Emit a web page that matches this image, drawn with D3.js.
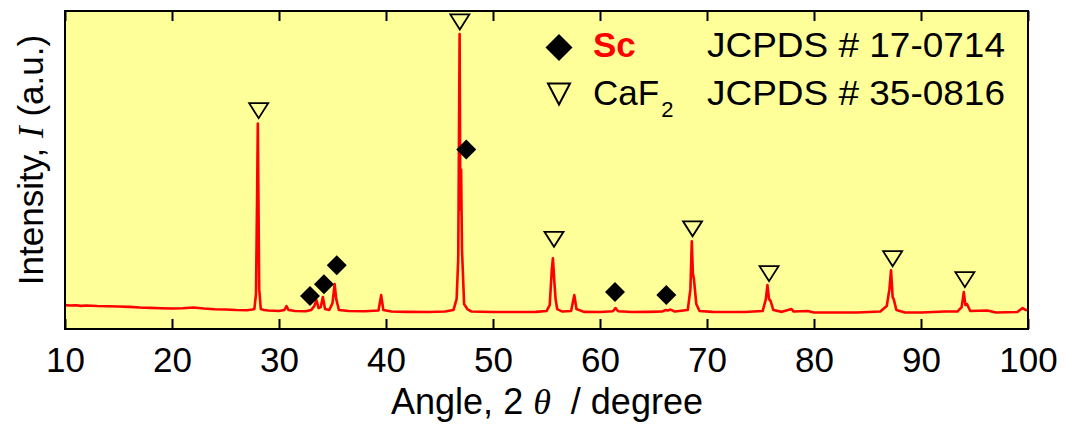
<!DOCTYPE html>
<html>
<head>
<meta charset="utf-8">
<script src="https://cdn.jsdelivr.net/npm/d3@7"></script>
<style>
  body { margin: 0; background: #ffffff; }
  svg { display: block; font-family: Arial, "Liberation Sans", sans-serif; }
</style>
</head>
<body>
<svg id="chart" width="1068" height="425"></svg>
<script>
// XRD pattern, 2theta (degree) vs intensity (a.u.)
const angles = [
  10.0, 10.5, 11.0, 11.5, 12.0, 13.0, 14.0, 15.0, 16.0, 17.0, 18.0, 19.0, 20.0, 21.0, 22.0, 22.5, 23.0, 24.0,
  25.0, 26.0, 27.0, 27.5, 27.7, 27.85, 27.95, 28.02, 28.08, 28.15, 28.3, 28.6, 29.0, 30.0, 30.5, 30.7, 30.9,
  31.5, 32.5, 33.0, 33.3, 33.5, 33.7, 33.9, 34.1, 34.3, 34.7, 35.0, 35.2, 35.35, 35.6, 36.5, 38.0, 39.3,
  39.55, 39.75, 40.5, 42.0, 44.0, 45.5, 46.3, 46.6, 46.75, 46.88, 46.95, 47.02, 47.1, 47.3, 47.6, 48.0,
  50.0, 52.0, 54.0, 55.0, 55.3, 55.5, 55.6, 55.75, 55.85, 56.0, 56.5, 57.3, 57.6, 57.8, 58.5, 60.0, 61.2,
  61.45, 61.7, 63.0, 64.5, 65.8, 66.1, 66.35, 66.6, 67.0, 68.2, 68.45, 68.58, 68.68, 68.78, 69.0, 69.3,
  70.5, 72.0, 73.5, 75.2, 75.5, 75.65, 75.8, 75.95, 76.2, 77.0, 77.9, 78.1, 79.4, 80.0, 82.0, 84.0, 86.2,
  86.8, 87.05, 87.2, 87.35, 87.45, 87.7, 88.5, 90.0, 92.2, 93.4, 93.8, 94.0, 94.15, 94.3, 94.6, 96.2,
  97.0, 99.0, 99.5, 99.8, 100.0
];
const intensity = [
  240, 235, 238, 232, 236, 230, 228, 225, 222, 215, 212, 208, 205, 208, 215, 210, 205, 198,
  195, 190, 188, 195, 200, 350, 1300, 2060, 1300, 400, 200, 190, 185, 180, 190, 230, 190,
  180, 178, 190, 230, 290, 210, 220, 320, 200, 190, 260, 450, 300, 190, 180, 178, 185,
  340, 190, 175, 172, 170, 175, 190, 300, 700, 2960, 1200, 1600, 800, 250, 200, 175,
  170, 170, 172, 180, 240, 600, 710, 450, 300, 200, 175, 180, 340, 200, 172, 170, 178,
  210, 178, 170, 172, 175, 190, 185, 195, 175, 190, 400, 880, 560, 500, 250, 180,
  172, 170, 170, 180, 300, 440, 300, 280, 190, 172, 200, 175, 180, 165, 165, 165, 175,
  230, 400, 590, 320, 300, 190, 165, 165, 175, 175, 220, 370, 240, 250, 180, 185,
  165, 170, 210, 190, 190
];

// phase markers (angle, height in the same intensity units)
const caf2Angles = [28.1, 46.9, 55.7, 68.65, 75.8, 87.35, 94.1];
const caf2Levels = [2190, 3080, 900, 1005, 555, 705, 495];
const scAngles = [32.9, 34.2, 35.4, 47.5, 61.4, 66.2];
const scLevels = [330, 450, 640, 1800, 370, 340];

const xTicks = [10, 20, 30, 40, 50, 60, 70, 80, 90, 100];

const legendNames = ['Sc', 'CaF'];
const legendCards = ['JCPDS # 17-0714', 'JCPDS # 35-0816'];

const margin = { top: 11, right: 40, bottom: 96, left: 65 };
const width = 1068 - margin.left - margin.right;
const height = 425 - margin.top - margin.bottom;

const svg = d3.select('#chart');
const g = svg.append('g').attr('transform', `translate(${margin.left},${margin.top})`);

const x = d3.scaleLinear().domain([10, 100]).range([0, width]);
const y = d3.scaleLinear().domain([0, 3190]).range([height, 0]);

g.append('rect')
  .attr('width', width)
  .attr('height', height)
  .attr('fill', '#ffff99');

const points = angles.map((a, i) => [a, intensity[i]]);
const line = d3.line().x((d) => x(d[0])).y((d) => y(d[1]));

const clip = g.append('clipPath').attr('id', 'plotclip');
clip.append('rect').attr('width', width).attr('height', height);

g.append('path')
  .datum(points)
  .attr('clip-path', 'url(#plotclip)')
  .attr('d', line)
  .attr('fill', 'none')
  .attr('stroke', '#ff0000')
  .attr('stroke-width', 2.6)
  .attr('stroke-linejoin', 'round');

// inward ticks, no labels on top
g.append('g')
  .attr('transform', `translate(0,${height})`)
  .call(d3.axisBottom(x).tickValues(xTicks).tickSize(-10).tickPadding(18).tickFormat(d3.format('d')))
  .call((ax) => ax.select('.domain').remove())
  .call((ax) => ax.selectAll('line').attr('stroke', '#000').attr('stroke-width', 2))
  .call((ax) => ax.selectAll('text').attr('font-size', 35).attr('fill', '#000')
    .attr('font-family', 'Arial, "Liberation Sans", sans-serif'));

g.append('g')
  .call(d3.axisTop(x).tickValues(xTicks).tickSize(-10).tickFormat(''))
  .call((ax) => ax.select('.domain').remove())
  .call((ax) => ax.selectAll('line').attr('stroke', '#000').attr('stroke-width', 2));

g.append('rect')
  .attr('width', width)
  .attr('height', height)
  .attr('fill', 'none')
  .attr('stroke', '#000')
  .attr('stroke-width', 2);

const tri = (cx, cy, w, h) => `M${cx - w / 2},${cy - h / 2}L${cx + w / 2},${cy - h / 2}L${cx},${cy + h / 2}Z`;
const dia = (cx, cy, r) => `M${cx},${cy - r}L${cx + r},${cy}L${cx},${cy + r}L${cx - r},${cy}Z`;

g.selectAll('.caf2')
  .data(caf2Angles)
  .join('path')
  .attr('class', 'caf2')
  .attr('d', (d, i) => tri(x(d), y(caf2Levels[i]), 19, 15))
  .attr('fill', 'none')
  .attr('stroke', '#000')
  .attr('stroke-width', 1.8);

g.selectAll('.sc')
  .data(scAngles)
  .join('path')
  .attr('class', 'sc')
  .attr('d', (d, i) => dia(x(d), y(scLevels[i]), 10))
  .attr('fill', '#000');

// legend
svg.append('path').attr('d', dia(559, 47.5, 13.5)).attr('fill', '#000');
svg.append('path').attr('d', tri(559, 94, 22, 21)).attr('fill', 'none')
  .attr('stroke', '#000').attr('stroke-width', 2);

svg.append('text')
  .attr('x', 593).attr('y', 57)
  .attr('font-size', 35).attr('font-weight', 'bold').attr('fill', '#ff0000')
  .text(legendNames[0]);

const caf = svg.append('text')
  .attr('x', 593).attr('y', 105)
  .attr('font-size', 35).attr('fill', '#000');
caf.append('tspan').text(legendNames[1]);
caf.append('tspan').attr('font-size', 22).attr('dy', 12).attr('dx', 2).text('2');

legendCards.forEach((t, i) => {
  svg.append('text')
    .attr('x', 707).attr('y', 57 + i * 48)
    .attr('font-size', 35).attr('fill', '#000')
    .attr('textLength', 298).attr('lengthAdjust', 'spacingAndGlyphs')
    .text(t);
});

// axis titles
const xt = svg.append('text')
  .attr('x', 547).attr('y', 414)
  .attr('text-anchor', 'middle')
  .attr('font-size', 36).attr('fill', '#000');
xt.append('tspan').text('Angle, 2 ');
xt.append('tspan').attr('font-family', '"Liberation Serif", "Times New Roman", serif')
  .attr('font-style', 'italic').text('θ');
xt.append('tspan').attr('dx', 10).text(' / degree');

const yt = svg.append('text')
  .attr('transform', 'translate(43,160) rotate(-90)')
  .attr('text-anchor', 'middle')
  .attr('font-size', 35).attr('fill', '#000');
yt.append('tspan').text('Intensity, ');
yt.append('tspan').attr('font-family', '"Liberation Serif", "Times New Roman", serif')
  .attr('font-style', 'italic').text('I');
yt.append('tspan').text(' (a.u.)');
</script>
</body>
</html>
